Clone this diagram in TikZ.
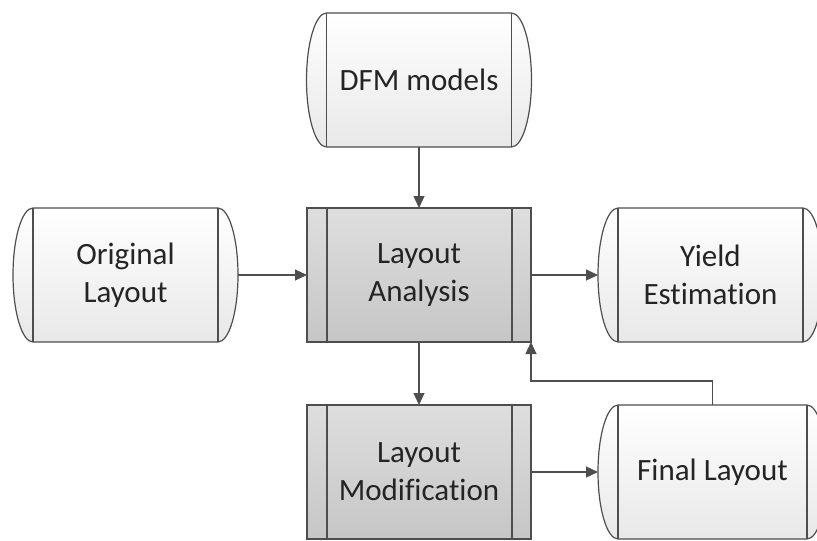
\documentclass[tikz,border=0pt]{standalone}
\usepackage{fontspec}
\setmainfont{Carlito}[Ligatures={NoCommon,NoContextual}]
\usetikzlibrary{arrows.meta,backgrounds}

\definecolor{edge}{RGB}{78,78,78}
\definecolor{ink}{RGB}{36,36,36}
\definecolor{storetop}{RGB}{255,255,255}
\definecolor{storebot}{RGB}{232,232,232}
\definecolor{proctop}{RGB}{222,222,222}
\definecolor{procbot}{RGB}{198,198,198}

\tikzset{
  boxtext/.style={align=center, text=ink, font=\fontsize{31}{38}\selectfont,
    inner sep=0pt, outer sep=0pt, minimum height=134pt},
  outline/.style={draw=edge, line width=1.2pt},
  storefill/.style={outline, top color=storetop, bottom color=storebot},
  procfill/.style={outline, top color=proctop, bottom color=procbot},
  flow/.style={draw=edge, line width=1.2pt, -{Triangle[length=12pt,width=11pt]}},
}

% stored-data symbol: box with curved ends
\newcommand\storednode[5]{%
  \node[boxtext, minimum width=#4] (#1) at (#2,#3) {#5};
  \begin{pgfonlayer}{background}
    \draw[storefill] ([xshift=20pt]#1.north west)
      arc[start angle=90, end angle=270, x radius=20pt, y radius=67pt]
      -- ([xshift=-20pt]#1.south east)
      arc[start angle=-90, end angle=90, x radius=20pt, y radius=67pt]
      -- cycle;
    \draw[outline] ([xshift=20pt]#1.north west) -- ([xshift=20pt]#1.south west)
      ([xshift=-20pt]#1.north east) -- ([xshift=-20pt]#1.south east);
  \end{pgfonlayer}}

% predefined-process symbol: box with side bars
\newcommand\procnode[5]{%
  \node[boxtext, minimum width=#4] (#1) at (#2,#3) {#5};
  \begin{pgfonlayer}{background}
    \draw[procfill] (#1.north west) rectangle (#1.south east);
    \draw[outline] ([xshift=20pt]#1.north west) -- ([xshift=20pt]#1.south west)
      ([xshift=-19pt]#1.north east) -- ([xshift=-19pt]#1.south east);
  \end{pgfonlayer}}

\begin{document}
\begin{tikzpicture}[x=1pt, y=-1pt]
  \useasboundingbox (0,0) rectangle (817,541);

  \storednode{dfm}{419}{80}{225pt}{DFM models}
  \storednode{orig}{125.5}{275}{225pt}{Original\\Layout}
  \procnode{la}{419}{275}{224pt}{Layout\\Analysis}
  \storednode{yield}{710.5}{275}{225pt}{Yield\\Estimation}
  \procnode{lm}{419}{472}{224pt}{Layout\\Modification}
  \storednode{final}{712.5}{472}{229pt}{Final Layout}

  \draw[flow] (dfm) -- (la);
  \draw[flow] (orig) -- (la);
  \draw[flow] (la) -- (yield);
  \draw[flow] (la) -- (lm);
  \draw[flow] (lm) -- (final);
  \draw[flow] (final.north) -- ++(0,-24) -| (la.south east);
\end{tikzpicture}
\end{document}
